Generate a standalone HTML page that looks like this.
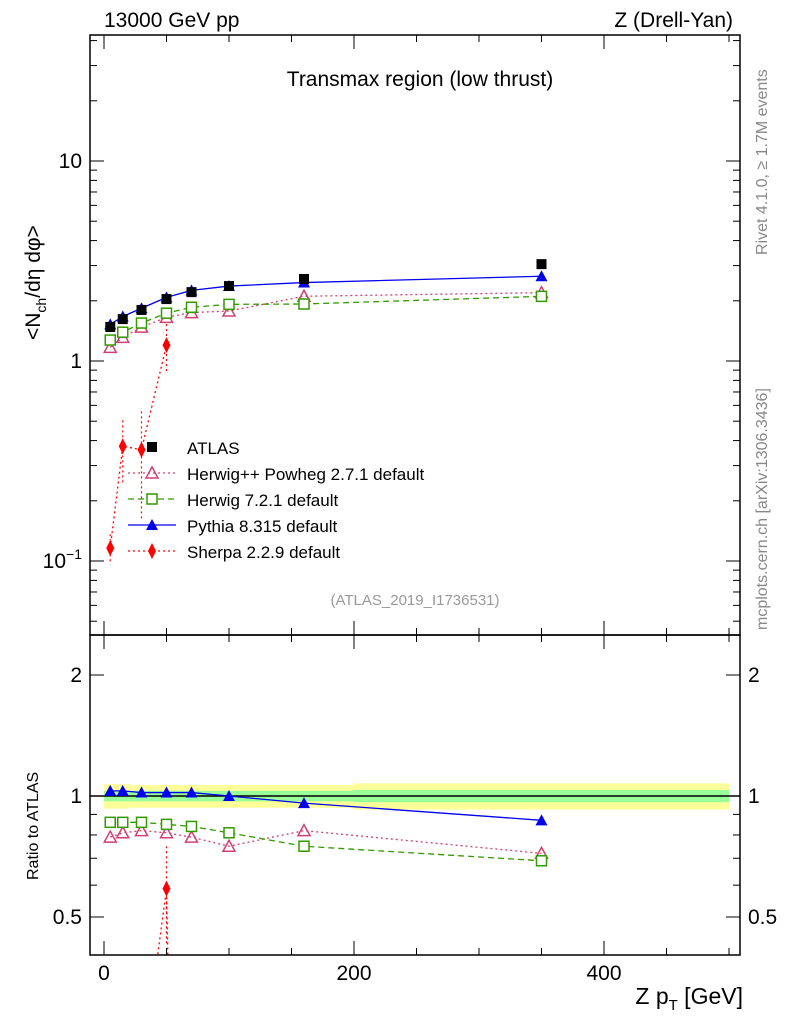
<!DOCTYPE html>
<html><head><meta charset="utf-8"><style>
html,body{margin:0;padding:0;background:#fff;overflow:hidden;font-family:"Liberation Sans",sans-serif}
svg{display:block}
svg text{font-family:"Liberation Sans",sans-serif}
</style></head><body>
<svg id="c" width="786" height="1024" xmlns="http://www.w3.org/2000/svg"></svg>
<script>
const xs=[5,15,30,50,70,100,160,350];
const atlas=[1.48,1.62,1.80,2.04,2.21,2.37,2.57,3.05];
const rPythia=[1.03,1.03,1.02,1.02,1.02,1.0,0.96,0.87];
const rHerwig7=[0.86,0.86,0.86,0.85,0.84,0.81,0.75,0.69];
const rHerwigpp=[0.79,0.81,0.82,0.81,0.79,0.75,0.82,0.72];
const sherpa=[0.116,0.375,0.36,1.2,0.001,0.001,0.001,0.001];
const sherpaErr=[0.02,0.13,0.2,0.33,0,0,0,0];
const bandEdges=[0,10,20,40,60,80,120,200,500];
const bandY=[0.07,0.07,0.065,0.065,0.065,0.065,0.065,0.075];
const bandG=[0.03,0.03,0.03,0.03,0.03,0.03,0.03,0.035];
const S=document.getElementById('c'),NS='http://www.w3.org/2000/svg';
function el(t,a,p){const e=document.createElementNS(NS,t);for(const k in a)e.setAttribute(k,a[k]);(p||S).appendChild(e);return e;}
const X=v=>104+v*1.25;
const Y=v=>361-200*Math.log10(v);
const R=v=>796-402*Math.log10(v);
const L=90,Rr=740;
const defs=el('defs',{});
const c1=el('clipPath',{id:'cm'},defs);el('rect',{x:L,y:35,width:650,height:600},c1);
const c2=el('clipPath',{id:'cr'},defs);el('rect',{x:L,y:635,width:650,height:320},c2);
const gb=el('g',{'clip-path':'url(#cr)'});

for(let i=0;i<bandY.length;i++){
 const x0=X(bandEdges[i]),x1=X(bandEdges[i+1]);
 el('rect',{x:x0,y:R(1+bandY[i]),width:x1-x0,height:R(1-bandY[i])-R(1+bandY[i]),fill:'#ffff99'},gb);
 el('rect',{x:x0,y:R(1+bandG[i]),width:x1-x0,height:R(1-bandG[i])-R(1+bandG[i]),fill:'#99ff99'},gb);
}
el('line',{x1:L,x2:Rr,y1:R(1),y2:R(1),stroke:'#000','stroke-width':1.5});
const f1=el('rect',{x:L,y:35,width:650,height:600,fill:'none',stroke:'#000','stroke-width':1.5});

const f2=el('rect',{x:L,y:635,width:650,height:320,fill:'none',stroke:'#000','stroke-width':1.5});

for(let v=0;v<=500;v+=50){const big=v%200==0;const l=big?14:7;
 [[635,-1],[955,-1],[35,1],[635,1]].forEach(([y,d])=>el('line',{x1:X(v),x2:X(v),y1:y,y2:y+d*l,stroke:'#000'}));}
[0,200,400].forEach(v=>{const t=el('text',{x:X(v),y:980,'font-size':21,'text-anchor':'middle'});t.textContent=v;
 });
for(let d=-2;d<=1;d++)for(let m=1;m<10;m++){const v=m*Math.pow(10,d);const y=Y(v);if(y<35||y>635)continue;
 const l=m==1?14:7;el('line',{x1:L,x2:L+l,y1:y,y2:y,stroke:'#000'});el('line',{x1:Rr,x2:Rr-l,y1:y,y2:y,stroke:'#000'});}
[['10',161],['1',361]].forEach(([s,y])=>{const t=el('text',{x:82,y:y+7,'font-size':21,'text-anchor':'end'});t.textContent=s;
 });
{const t=el('text',{x:82,y:568,'font-size':21,'text-anchor':'end'});t.innerHTML='10<tspan dy="-9" font-size="14">−1</tspan>';
 }
[0.5,0.6,0.7,0.8,0.9,1,2].forEach(v=>{const y=R(v);const l=(v==0.5||v==1||v==2)?14:7;
 el('line',{x1:L,x2:L+l,y1:y,y2:y,stroke:'#000'});el('line',{x1:Rr,x2:Rr-l,y1:y,y2:y,stroke:'#000'});});
[['2',2],['1',1],['0.5',0.5]].forEach(([s,v])=>{[[82,'end'],[748,'start']].forEach(([x,a])=>{const t=el('text',{x:x,y:R(v)+7,'font-size':21,'text-anchor':a});t.textContent=s;
 });});
function txt(s,a,name){const t=el('text',a);t.textContent=s;return t;}
txt('13000 GeV pp',{x:104,y:27,'font-size':21},'energy-label');
txt('Z (Drell-Yan)',{x:733,y:27,'font-size':21,'text-anchor':'end'},'process-label');
txt('Transmax region (low thrust)',{x:420,y:86,'font-size':21,'text-anchor':'middle'},'plot-title');
txt('(ATLAS_2019_I1736531)',{x:415,y:605,'font-size':15,fill:'#999','text-anchor':'middle'},'analysis-id');
txt('Rivet 4.1.0, ≥ 1.7M events',{x:0,y:0,'font-size':16,fill:'#888',transform:'translate(767,255) rotate(-90)'},'rivet-label');
txt('mcplots.cern.ch [arXiv:1306.3436]',{x:0,y:0,'font-size':16,fill:'#888',transform:'translate(767,630) rotate(-90)'},'mcplots-label');
{const t=el('text',{x:0,y:0,'font-size':21,transform:'translate(40,340) rotate(-90)'});t.innerHTML='&lt;N<tspan dy="6" font-size="14">ch</tspan><tspan dy="-6">/dη dφ&gt;</tspan>';
 }
txt('Ratio to ATLAS',{x:0,y:0,'font-size':16,transform:'translate(38,880) rotate(-90)'},'ratio-axis-title');
{const t=el('text',{x:743,y:1004,'font-size':23,'text-anchor':'end'});t.innerHTML='Z p<tspan dy="6" font-size="15">T</tspan><tspan dy="-6"> [GeV]</tspan>';
 }
function marker(g,type,x,y,col){
 if(type=='sq')el('rect',{x:x-5,y:y-5,width:10,height:10,fill:'#000'},g);
 else if(type=='osq')el('rect',{x:x-5,y:y-5,width:10,height:10,fill:'#fff',stroke:col,'stroke-width':1.5},g);
 else if(type=='tri')el('polygon',{points:`${x},${y-6} ${x-6},${y+5} ${x+6},${y+5}`,fill:col},g);
 else if(type=='otri')el('polygon',{points:`${x},${y-6} ${x-6},${y+5} ${x+6},${y+5}`,fill:'none',stroke:col,'stroke-width':1.5},g);
 else if(type=='dia')el('polygon',{points:`${x},${y-8} ${x-4},${y} ${x},${y+8} ${x+4},${y}`,fill:col},g);
}
function series(name,vals,fy,clip,col,dash,type,n,err){
 n=n||xs.length;
 const g=el('g',{'clip-path':clip});
 if(err)for(let i=0;i<n;i++)if(err[i]>0)el('line',{x1:X(xs[i]),x2:X(xs[i]),y1:fy(vals[i]+err[i]),y2:fy(Math.max(vals[i]-err[i],1e-4)),stroke:col,'stroke-width':1.2,'stroke-dasharray':dash},g);
 if(col)el('polyline',{points:xs.slice(0,n).map((x,i)=>X(x)+','+fy(vals[i])).join(' '),fill:'none',stroke:col,'stroke-width':1.3,'stroke-dasharray':dash||''},g);
 for(let i=0;i<n;i++)marker(g,type,X(xs[i]),fy(vals[i]),col);
}
const pm=rPythia.map((r,i)=>r*atlas[i]),h7m=rHerwig7.map((r,i)=>r*atlas[i]),hpm=rHerwigpp.map((r,i)=>r*atlas[i]);
const rs=sherpa.map((v,i)=>v/atlas[i]);
const rsErr=sherpaErr.map((v,i)=>v/atlas[i]);
series('series-herwigpp',hpm,Y,'url(#cm)','#d04070','2,3','otri');
series('series-herwig7',h7m,Y,'url(#cm)','#339900','6,4','osq');
series('series-sherpa',sherpa,Y,'url(#cm)','#ff0000','2,3','dia',4,sherpaErr);
series('series-pythia',pm,Y,'url(#cm)','#0000ee','','tri');
series('series-atlas',atlas,Y,'url(#cm)',null,'','sq');
series('ratio-herwigpp',rHerwigpp,R,'url(#cr)','#d04070','2,3','otri');
series('ratio-herwig7',rHerwig7,R,'url(#cr)','#339900','6,4','osq');
series('ratio-sherpa',rs,R,'url(#cr)','#ff0000','2,3','dia',5,rsErr);
series('ratio-pythia',rPythia,R,'url(#cr)','#0000ee','','tri');
const leg=[['ATLAS',null,'','sq'],['Herwig++ Powheg 2.7.1 default','#d04070','2,3','otri'],['Herwig 7.2.1 default','#339900','6,4','osq'],['Pythia 8.315 default','#0000ee','','tri'],['Sherpa 2.2.9 default','#ff0000','2,3','dia']];
leg.forEach((l,i)=>{const y=447+i*26;const g=el('g',{});
 if(l[1])el('line',{x1:128,x2:176,y1:y,y2:y,stroke:l[1],'stroke-width':1.3,'stroke-dasharray':l[2]},g);
 marker(g,l[3],152,y,l[1]);const t=el('text',{x:187,y:y+7,'font-size':17},g);t.textContent=l[0];});
</script>
</body></html>
